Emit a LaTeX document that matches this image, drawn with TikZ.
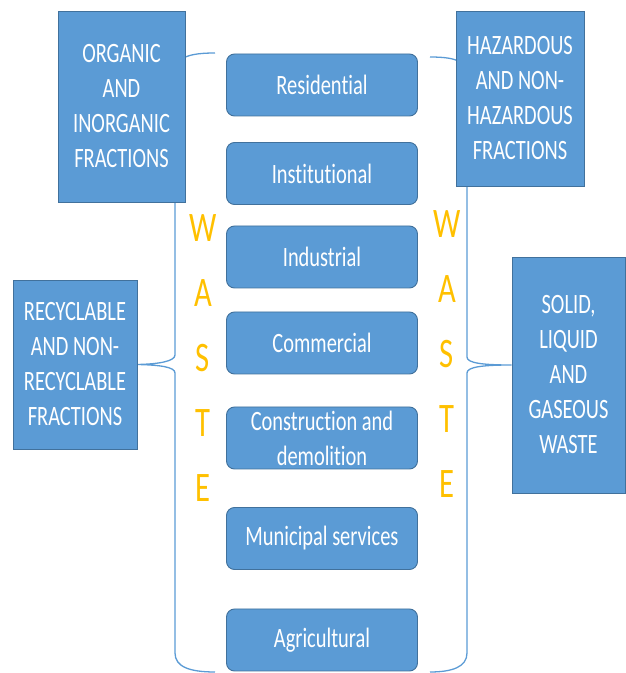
\documentclass[tikz,border=0pt]{standalone}
\usepackage{fontspec}
\setmainfont{Carlito}
\newfontfamily\narrowfont[FakeStretch=0.73,Ligatures=NoCommon]{Carlito}
\usepackage{xcolor}
\usetikzlibrary{positioning,backgrounds}

\definecolor{boxblue}{HTML}{5B9BD5}
\definecolor{boxedge}{HTML}{41719C}
\definecolor{wasteorange}{HTML}{FFC000}

\begin{document}
\begin{tikzpicture}[
  x=1pt,
  y=1pt,
  sector/.style={draw=boxedge, fill=boxblue, line width=0.9pt, rounded corners=8pt,
    minimum width=191pt, minimum height=62pt, align=center, text=white,
    inner xsep=2pt, inner ysep=0pt, font=\narrowfont\fontsize{28}{35}\selectfont},
  kind/.style={draw=boxedge, fill=boxblue, line width=0.9pt, align=center, text=white,
    inner sep=0pt, font=\narrowfont\fontsize{28}{35}\selectfont},
  letters/.style={text=wasteorange, align=center, inner sep=0pt,
    font=\narrowfont\fontsize{42}{65}\selectfont},
  brace/.style={draw=boxblue, line width=1.3pt}
]
\useasboundingbox (0,0) rectangle (626,673);

% the four ways of splitting waste
\node[kind, minimum width=127pt, minimum height=191pt] (organic) at (121.5,566.5)
  {ORGANIC\\AND\\INORGANIC\\FRACTIONS};
\node[kind, minimum width=128pt, minimum height=175pt] (hazard) at (520,574.5)
  {HAZARDOUS\\AND NON-\\HAZARDOUS\\FRACTIONS};
\node[kind, minimum width=124pt, minimum height=169pt] (recyc) at (75,308.5)
  {RECYCLABLE\\AND NON-\\RECYCLABLE\\FRACTIONS};
\node[kind, minimum width=113pt, minimum height=236pt] (solid) at (568.5,298)
  {SOLID,\\LIQUID\\AND\\GASEOUS\\WASTE};

% sources
\node[sector] (residential) at (322,588) {Residential};
\node[sector] (institutional) at (322,499.5) {Institutional};
\node[sector] (industrial) at (322,416) {Industrial};
\node[sector] (commercial) at (322,330) {Commercial};
\node[sector] (construction) at (322,235) {Construction and\\demolition};
\node[sector] (municipal) at (322,134.5) {Municipal services};
\node[sector] (agricultural) at (322,33) {Agricultural};

\node[letters] (wasteL) at (203,315) {W\\A\\S\\T\\E};
\node[letters] (wasteR) at (447,319) {W\\A\\S\\T\\E};

% braces
\coordinate (lT) at (215,620);
\coordinate (lB) at (215,1);
\coordinate (rT) at (430,616);
\coordinate (rB) at (430,1);
\coordinate (rTip) at ([yshift=10pt]solid.west);
\begin{pgfonlayer}{background}
\draw[brace] (lT) .. controls (180,620) and (175,612) .. (175,595)
  -- (175,318) .. controls (175,312) and (160,309) .. (recyc.east)
  .. controls (160,308) and (175,306) .. (175,300)
  -- (175,20) .. controls (175,6) and (190,1) .. (lB);
\draw[brace] (rT) .. controls (460,616) and (467,610) .. (467,595)
  -- (467,316) .. controls (467,310) and (482,308) .. (rTip)
  .. controls (482,308) and (467,306) .. (467,300)
  -- (467,20) .. controls (467,6) and (452,1) .. (rB);
\end{pgfonlayer}

\end{tikzpicture}
\end{document}
